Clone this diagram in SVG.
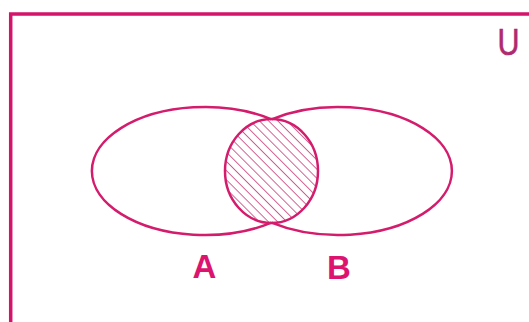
<svg xmlns="http://www.w3.org/2000/svg" width="529" height="322" viewBox="0 0 529 322">
  <style>
    .line { fill: none; stroke: #d41c6c; stroke-width: 2.5; }
    .frame { fill: none; stroke: #d4146a; stroke-width: 3.5; }
    .lbl { font-family: "Liberation Sans", Arial, sans-serif; font-weight: bold; font-size: 33px; fill: #dc1470; text-anchor: middle; }
    .u { font-family: "Liberation Sans", Arial, sans-serif; font-size: 37px; fill: #b02a6e; stroke: #b02a6e; stroke-width: 0.6; }
  </style>
  <defs>
    <pattern id="hatch" patternUnits="userSpaceOnUse" width="6.5" height="6.5" patternTransform="rotate(-45)">
      <line x1="0" y1="0" x2="0" y2="6.5" stroke="#c8407a" stroke-width="1.6"/>
    </pattern>
  </defs>
  <rect width="529" height="322" fill="#ffffff"/>
  <g id="universe">
    <rect class="frame" x="10.7" y="14" width="540" height="330"/>
    <text class="u" x="497.5" y="55" textLength="22" lengthAdjust="spacingAndGlyphs">U</text>
  </g>
  <g id="intersection">
    <ellipse cx="271.5" cy="171" rx="46.5" ry="52" style="fill:url(#hatch)" stroke="#d41c6c" stroke-width="2.5"/>
  </g>
  <g id="setA">
    <path class="line" d="M 271.5 119.3 A 113 64 0 1 0 271.5 222.7"/>
    <text class="lbl" x="204.5" y="278">A</text>
  </g>
  <g id="setB">
    <path class="line" d="M 271.5 119.3 A 113.5 64 0 1 1 271.5 222.7"/>
    <text class="lbl" x="339" y="279">B</text>
  </g>
  <g id="connectors"></g>
</svg>
